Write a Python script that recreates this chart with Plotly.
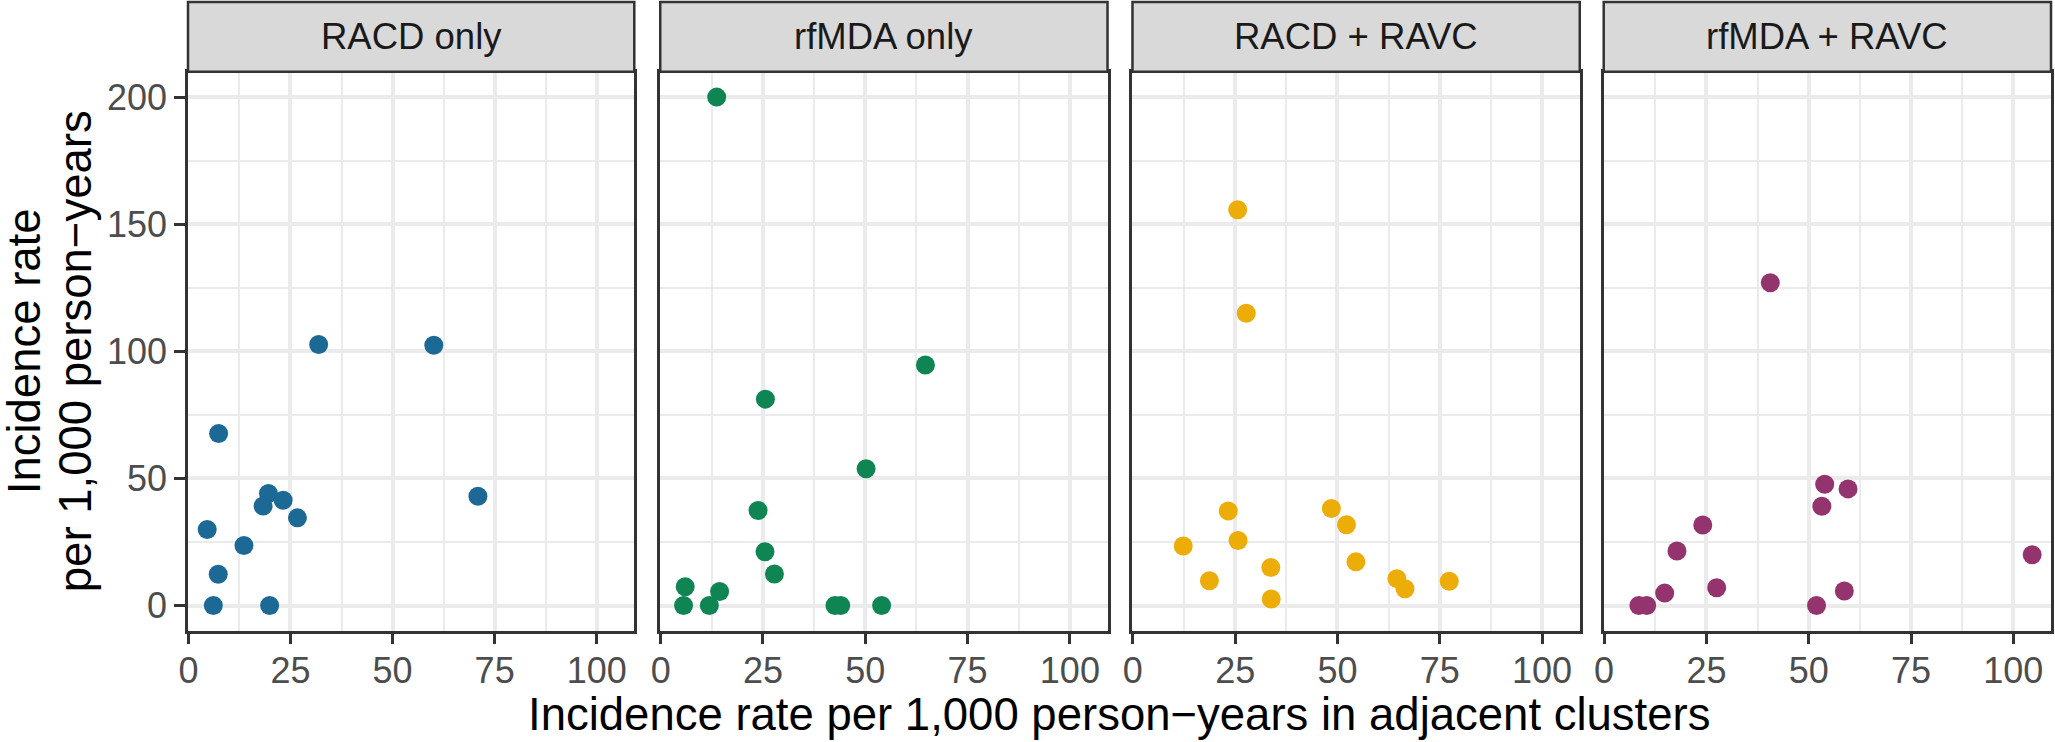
import plotly.graph_objects as go

# ---- data ----
panels = ["RACD only", "rfMDA only", "RACD + RAVC", "rfMDA + RAVC"]
colors = ["#1D6996", "#0F8554", "#EDAD08", "#94346E"]

racd_x = [31.9, 60.1, 7.4, 70.9, 19.6, 23.2, 18.3, 26.7, 4.6, 13.6, 7.3, 6.1, 19.9]
racd_y = [102.7, 102.4, 67.7, 43.0, 44.1, 41.4, 39.2, 34.5, 29.9, 23.6, 12.3, 0, 0]

rfmda_x = [13.7, 64.7, 25.6, 50.2, 23.8, 25.5, 27.8, 6.0, 14.4, 5.6, 11.9, 42.6, 44.0, 54.0]
rfmda_y = [200.0, 94.6, 81.2, 53.8, 37.4, 21.2, 12.4, 7.4, 5.5, 0, 0, 0, 0, 0]

racd_ravc_x = [25.6, 27.7, 23.3, 48.5, 52.2, 12.3, 25.7, 54.5, 33.7, 18.7, 64.5, 66.5, 77.3, 33.8]
racd_ravc_y = [155.7, 115.0, 37.2, 38.2, 31.8, 23.4, 25.6, 17.2, 15.0, 9.8, 10.6, 6.6, 9.6, 2.6]

rfmda_ravc_x = [40.6, 53.9, 59.6, 53.2, 24.1, 17.8, 104.6, 27.5, 14.8, 58.7, 8.5, 10.4, 51.9]
rfmda_ravc_y = [127.0, 47.7, 45.9, 39.1, 31.7, 21.5, 20.0, 7.0, 4.9, 5.7, 0, 0, 0]

x_ticks = [0, 25, 50, 75, 100]
y_ticks = [0, 50, 100, 150, 200]

xs = [racd_x, rfmda_x, racd_ravc_x, rfmda_ravc_x]
ys = [racd_y, rfmda_y, racd_ravc_y, rfmda_ravc_y]

# ---- layout geometry ----
W, H = 2055, 742
ML, MR, MT, MB = 188, 1, 2, 111
plot_w = W - ML - MR
plot_h = H - MT - MB
panel_px = [(188, 635), (661, 1109), (1134, 1582), (1606, 2054)]
domains = [[(l - ML) / plot_w, (r - ML) / plot_w] for l, r in panel_px]
panel_top_px = 71.7
ytop = (H - MB - panel_top_px) / plot_h

FONT = "Liberation Sans, Arial, sans-serif"
BORDER = "#333333"
GRID = "#EBEBEB"
TITLE_SIZE = 45.5

fig = go.Figure()
layout = dict(
    width=W, height=H,
    margin=dict(l=ML, r=MR, t=MT, b=MB, pad=0),
    paper_bgcolor="white", plot_bgcolor="white",
    showlegend=False,
    font=dict(family=FONT),
)
shapes = []
annotations = []

for i in range(4):
    n = "" if i == 0 else str(i + 1)
    fig.add_trace(go.Scatter(
        x=xs[i], y=ys[i], mode="markers",
        marker=dict(color=colors[i], size=19, line=dict(width=0)),
        xaxis="x" + n, yaxis="y" + n, hoverinfo="skip",
    ))
    layout["xaxis" + n] = dict(
        domain=domains[i], range=[-0.1, 109.2], anchor="y" + n,
        tickvals=x_ticks, ticktext=[str(v) for v in x_ticks],
        ticks="outside", ticklen=10, tickwidth=2.5, tickcolor=BORDER,
        ticklabelstandoff=-4,
        tickfont=dict(size=36, color="#4D4D4D", family=FONT),
        showline=True, mirror=True, linecolor=BORDER, linewidth=2.5,
        showgrid=True, gridcolor=GRID, gridwidth=3.5, zeroline=False,
        minor=dict(tickvals=[12.5, 37.5, 62.5, 87.5], showgrid=True,
                   gridcolor=GRID, gridwidth=2, ticks=""),
        fixedrange=True,
    )
    layout["yaxis" + n] = dict(
        domain=[0, ytop], range=[-10, 210], anchor="x" + n,
        tickvals=y_ticks, ticktext=[str(v) for v in y_ticks],
        ticks="outside" if i == 0 else "", ticklen=11, tickwidth=2.5, tickcolor=BORDER,
        showticklabels=(i == 0),
        tickfont=dict(size=36, color="#4D4D4D", family=FONT),
        showline=True, mirror=True, linecolor=BORDER, linewidth=2.5,
        showgrid=True, gridcolor=GRID, gridwidth=3.5, zeroline=False,
        minor=dict(tickvals=[25, 75, 125, 175], showgrid=True,
                   gridcolor=GRID, gridwidth=2, ticks=""),
        fixedrange=True,
    )
    xref_dom = ("x" + n + " domain")
    shapes.append(dict(
        type="rect", xref=xref_dom, yref="paper",
        x0=0, x1=1, y0=ytop, y1=1.0,
        fillcolor="#D9D9D9", line=dict(color=BORDER, width=2.5), layer="above",
    ))
    annotations.append(dict(
        text=panels[i], xref=xref_dom, yref="paper",
        x=0.5, y=(ytop + 1.0) / 2, xanchor="center", yanchor="middle",
        showarrow=False, font=dict(size=36.5, color="#1A1A1A", family=FONT),
    ))

def px_to_paper_x(px):
    return (px - ML) / plot_w

def px_to_paper_y(py):
    return (H - MB - py) / plot_h

# x axis title
annotations.append(dict(
    text="Incidence rate per 1,000 person\u2212years in adjacent clusters",
    xref="paper", yref="paper", x=px_to_paper_x(1120), y=px_to_paper_y(714),
    xanchor="center", yanchor="middle", showarrow=False,
    font=dict(size=TITLE_SIZE, color="black", family=FONT),
))
# y axis title (two lines)
annotations.append(dict(
    text="Incidence rate", textangle=-90,
    xref="paper", yref="paper", x=px_to_paper_x(25), y=px_to_paper_y(351),
    xanchor="center", yanchor="middle", showarrow=False,
    font=dict(size=TITLE_SIZE, color="black", family=FONT),
))
annotations.append(dict(
    text="per 1,000 person\u2212years", textangle=-90,
    xref="paper", yref="paper", x=px_to_paper_x(76), y=px_to_paper_y(351),
    xanchor="center", yanchor="middle", showarrow=False,
    font=dict(size=TITLE_SIZE, color="black", family=FONT),
))

layout["shapes"] = shapes
layout["annotations"] = annotations
fig.update_layout(**layout)
fig.write_html(
    "out.html",
    config={"displayModeBar": False},
    post_script="document.body.style.margin='0px';document.body.style.overflow='hidden';",
)
